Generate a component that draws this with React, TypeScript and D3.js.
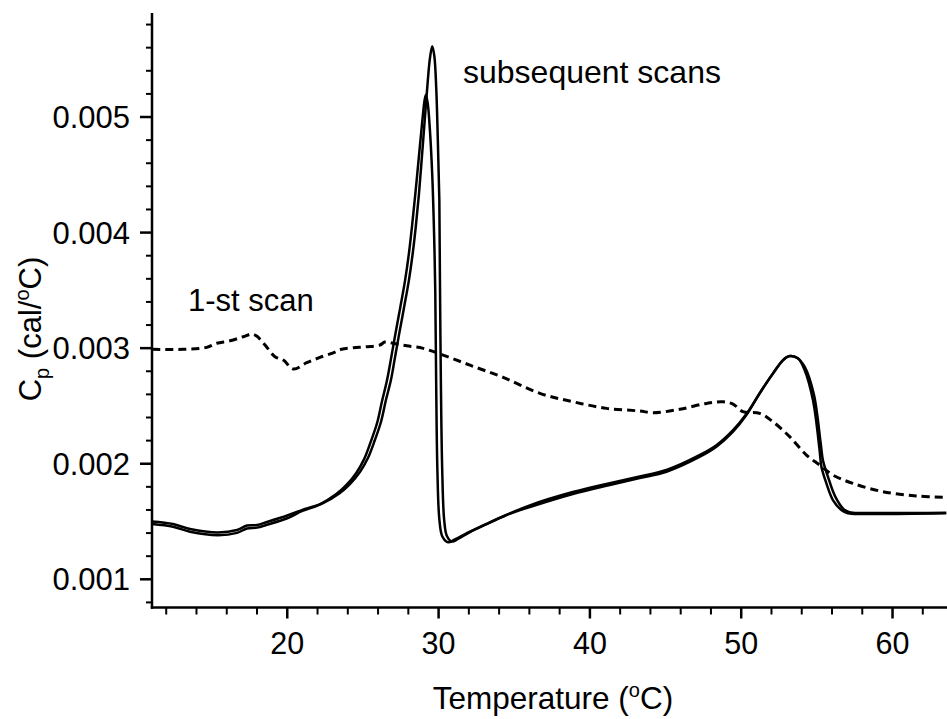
import React from "react";
import * as d3 from "d3";

const W = 947;
const H = 719;

// x: temperature (°C), y: Cp (cal/°C)
const xMajorTicks = [20, 30, 40, 50, 60];
const xMinorTicks = [12, 14, 16, 18, 22, 24, 26, 28, 32, 34, 36, 38, 42, 44, 46, 48, 52, 54, 56, 58, 62];
const yMajorTicks = [0.001, 0.002, 0.003, 0.004, 0.005];
const yTickLabels = ["0.001", "0.002", "0.003", "0.004", "0.005"];
const yMinorTicks = [0.0008, 0.0012, 0.0014, 0.0016, 0.0018, 0.0022, 0.0024, 0.0026, 0.0028, 0.0032, 0.0034, 0.0036, 0.0038, 0.0042, 0.0044, 0.0046, 0.0048, 0.0052, 0.0054, 0.0056, 0.0058];

// subsequent scan (taller peak)
const scanA_T = [11.06, 12.45, 13.57, 15.42, 16.68, 17.34, 18.0, 18.66, 20.0, 21.17, 22.36, 23.48, 24.14, 24.8, 25.33, 25.79, 26.19, 26.52, 26.85, 27.11, 27.38, 27.71, 28.04, 28.3, 28.5, 28.7, 28.9, 29.1, 29.29, 29.43, 29.58, 29.72, 29.85, 29.95, 30.05, 30.09, 30.15, 30.24, 30.37, 30.55, 30.88, 31.28, 32.07, 33.06, 34.49, 36.03, 38.87, 41.31, 43.29, 45.06, 47.27, 48.36, 49.46, 50.34, 51.22, 52.1, 52.76, 53.2, 53.75, 54.19, 54.74, 55.18, 55.3, 55.63, 56.06, 56.62, 57.05, 58.27, 63.55];
const scanA_C = [0.0015, 0.001478, 0.001435, 0.001405, 0.001426, 0.001465, 0.00147, 0.001496, 0.001552, 0.001608, 0.00166, 0.001747, 0.001824, 0.001928, 0.002049, 0.002205, 0.002361, 0.002551, 0.002724, 0.002914, 0.003113, 0.003347, 0.003589, 0.00383, 0.00406, 0.00433, 0.00466, 0.005, 0.00532, 0.00551, 0.005613, 0.005527, 0.005233, 0.0048, 0.004281, 0.003589, 0.002724, 0.001946, 0.001513, 0.001375, 0.001327, 0.001349, 0.001409, 0.00147, 0.001556, 0.001625, 0.001738, 0.001816, 0.001876, 0.001931, 0.002061, 0.002147, 0.002277, 0.002421, 0.002609, 0.002782, 0.002897, 0.002932, 0.002912, 0.002811, 0.002551, 0.002119, 0.001974, 0.00183, 0.001686, 0.0016, 0.001571, 0.001565, 0.001571];

// subsequent scan (lower peak)
const scanB_T = [11.06, 12.45, 13.57, 15.42, 16.68, 17.34, 18.0, 18.66, 20.0, 21.0, 22.1, 23.22, 23.88, 24.55, 25.08, 25.53, 25.93, 26.26, 26.58, 26.85, 27.12, 27.45, 27.78, 28.04, 28.24, 28.46, 28.7, 28.92, 29.08, 29.16, 29.28, 29.42, 29.58, 29.7, 29.78, 29.84, 29.92, 30.05, 30.25, 30.62, 31.05, 31.9, 32.95, 34.4, 36.03, 38.87, 41.31, 43.29, 45.06, 47.27, 48.36, 49.46, 50.34, 51.22, 52.1, 52.76, 53.15, 53.7, 54.19, 54.8, 55.25, 55.4, 55.75, 56.2, 56.75, 57.15, 58.27, 63.55];
const scanB_C = [0.001478, 0.001455, 0.001412, 0.001382, 0.001402, 0.00144, 0.001447, 0.001472, 0.001528, 0.001592, 0.001645, 0.001735, 0.001812, 0.001918, 0.00204, 0.002195, 0.00235, 0.00254, 0.002715, 0.002905, 0.003105, 0.00334, 0.003582, 0.00382, 0.00405, 0.00433, 0.00466, 0.00496, 0.00515, 0.00519, 0.00512, 0.0049, 0.0045, 0.004, 0.0035, 0.0027, 0.00195, 0.00152, 0.00137, 0.00132, 0.001343, 0.001402, 0.001466, 0.001552, 0.00164, 0.001755, 0.001832, 0.00189, 0.001946, 0.002076, 0.00216, 0.00229, 0.00243, 0.00261, 0.00278, 0.002895, 0.00293, 0.002915, 0.00284, 0.0026, 0.00218, 0.00203, 0.00188, 0.00172, 0.00161, 0.00158, 0.001574, 0.001576];

// 1-st scan (dashed)
const scan1_T = [11.08, 13.13, 14.68, 15.34, 16.22, 17.09, 17.65, 17.98, 18.53, 19.19, 19.74, 20.4, 21.28, 22.16, 23.04, 23.59, 24.36, 25.24, 26.12, 26.45, 27.0, 27.89, 28.98, 30.3, 32.07, 34.27, 36.69, 38.89, 41.1, 43.3, 44.17, 45.94, 47.7, 48.8, 49.46, 50.12, 51.22, 52.1, 53.2, 54.31, 55.18, 56.06, 57.38, 59.37, 61.57, 63.55];
const scan1_C = [0.00299, 0.00299, 0.003007, 0.003042, 0.003064, 0.003099, 0.003122, 0.003105, 0.003027, 0.002926, 0.002897, 0.002819, 0.002874, 0.00292, 0.00296, 0.00299, 0.003003, 0.003012, 0.003027, 0.003053, 0.003042, 0.003021, 0.002998, 0.00294, 0.002853, 0.002747, 0.002609, 0.002536, 0.002479, 0.002456, 0.002441, 0.002471, 0.002522, 0.002536, 0.002516, 0.00245, 0.002436, 0.002363, 0.002234, 0.002075, 0.001989, 0.001902, 0.00183, 0.001758, 0.001721, 0.001709];

const FONT = "'Liberation Sans', Arial, Helvetica, sans-serif";

export default function App() {
  const left = 152;
  const right = 947;
  const top = 13;
  const bottom = 607.5;
  const x = d3.scaleLinear().domain([11.06, 63.6]).range([left, right]);
  const y = d3.scaleLinear().domain([0.000756, 0.0059]).range([bottom, top]);

  const line = d3
    .line<[number, number]>()
    .x((d) => x(d[0]))
    .y((d) => y(d[1]))
    .curve(d3.curveCatmullRom.alpha(0.5));

  const zip = (a: number[], b: number[]) => a.map((v, i) => [v, b[i]] as [number, number]);

  const pathA = line(zip(scanA_T, scanA_C)) || "";
  const pathB = line(zip(scanB_T, scanB_C)) || "";
  const path1 = line(zip(scan1_T, scan1_C)) || "";

  return (
    <svg
      width={W}
      height={H}
      style={{ position: "absolute", left: 0, top: 0, background: "#fff", display: "block" }}
    >
      <rect x={0} y={0} width={W} height={H} fill="#fff" />
      {/* curves */}
      <path d={path1} fill="none" stroke="#000" strokeWidth={3} strokeDasharray="8 5" />
      <path d={pathA} fill="none" stroke="#000" strokeWidth={2.5} />
      <path d={pathB} fill="none" stroke="#000" strokeWidth={2.5} />

      {/* axes */}
      <line x1={left} x2={left} y1={top} y2={bottom + 1.2} stroke="#000" strokeWidth={2.5} />
      <line x1={left - 1.2} x2={right} y1={bottom} y2={bottom} stroke="#000" strokeWidth={2.5} />

      {yMinorTicks.map((v) => (
        <line key={"ym" + v} x1={left - 6} x2={left} y1={y(v)} y2={y(v)} stroke="#000" strokeWidth={2} />
      ))}
      {yMajorTicks.map((v, i) => (
        <g key={"yM" + v}>
          <line x1={left - 12} x2={left} y1={y(v)} y2={y(v)} stroke="#000" strokeWidth={2.5} />
          <text x={130} y={y(v) + 11} textAnchor="end" fontFamily={FONT} fontSize={31} fill="#000">
            {yTickLabels[i]}
          </text>
        </g>
      ))}
      {xMinorTicks.map((v) => (
        <line key={"xm" + v} x1={x(v)} x2={x(v)} y1={bottom} y2={bottom + 7} stroke="#000" strokeWidth={2} />
      ))}
      {xMajorTicks.map((v) => (
        <g key={"xM" + v}>
          <line x1={x(v)} x2={x(v)} y1={bottom} y2={bottom + 11} stroke="#000" strokeWidth={2.5} />
          <text x={x(v)} y={653.5} textAnchor="middle" fontFamily={FONT} fontSize={30.5} fill="#000">
            {String(v)}
          </text>
        </g>
      ))}

      {/* axis titles */}
      <text x={553} y={709} textAnchor="middle" fontFamily={FONT} fontSize={31.5} fill="#000">
        <tspan>Temperature (</tspan>
        <tspan fontSize={20} dy={-12}>o</tspan>
        <tspan dy={12}>C)</tspan>
      </text>
      <text
        transform="translate(41,329) rotate(-90)"
        textAnchor="middle"
        fontFamily={FONT}
        fontSize={31}
        fill="#000"
      >
        <tspan>C</tspan>
        <tspan fontSize={20} dy={8}>p</tspan>
        <tspan dy={-8}> (cal/</tspan>
        <tspan fontSize={20} dy={-12}>o</tspan>
        <tspan dy={12}>C)</tspan>
      </text>

      {/* annotations */}
      <text x={463} y={83} fontFamily={FONT} fontSize={32} fill="#000">subsequent scans</text>
      <text x={188} y={311} fontFamily={FONT} fontSize={31} fill="#000">1-st scan</text>
    </svg>
  );
}
